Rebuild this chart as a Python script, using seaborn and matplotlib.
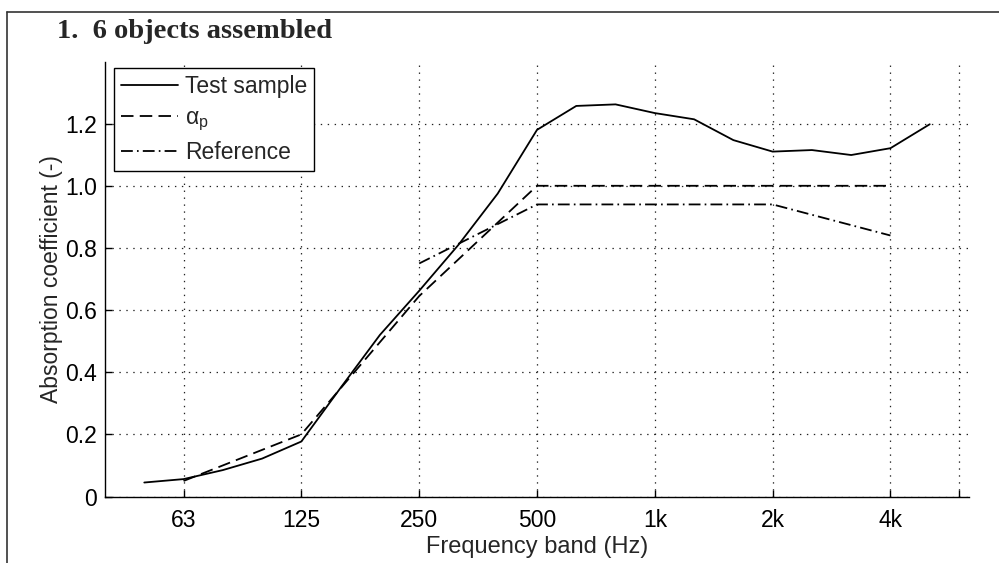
import matplotlib
matplotlib.use('Agg')
import matplotlib.pyplot as plt
import seaborn as sns
import pandas as pd
from matplotlib.lines import Line2D

# Third-octave bands used on the x axis (plotted at their index)
bands = ['50', '63', '80', '100', '125', '160', '200', '250', '315', '400', '500',
         '630', '800', '1k', '1.25k', '1.6k', '2k', '2.5k', '3.15k', '4k', '5k']

# Test sample, third-octave values
test_sample = [0.045, 0.056, 0.085, 0.122, 0.177, 0.35, 0.52, 0.662, 0.81, 0.975, 1.18,
               1.257, 1.262, 1.234, 1.214, 1.147, 1.11, 1.115, 1.099, 1.121, 1.198]

# Practical absorption coefficient, octave bands
alpha_bands = ['63', '125', '250', '500', '1k', '2k', '4k']
alpha_p = [0.05, 0.20, 0.645, 1.0, 1.0, 1.0, 1.0]

# Reference curve, octave bands
ref_bands = ['250', '500', '1k', '2k', '4k']
reference = [0.75, 0.94, 0.94, 0.94, 0.84]

tick_labels = ['63', '125', '250', '500', '1k', '2k', '4k']
y_ticks = [0, 0.2, 0.4, 0.6, 0.8, 1.0, 1.2]
y_tick_labels = ['0', '0.2', '0.4', '0.6', '0.8', '1.0', '1.2']

pos = {b: i for i, b in enumerate(bands)}
df_test = pd.DataFrame({'x': [pos[b] for b in bands], 'y': test_sample})
df_alpha = pd.DataFrame({'x': [pos[b] for b in alpha_bands], 'y': alpha_p})
df_ref = pd.DataFrame({'x': [pos[b] for b in ref_bands], 'y': reference})

sns.set_style('ticks')
plt.rcParams['font.family'] = ['Liberation Sans', 'DejaVu Sans']
plt.rcParams['mathtext.fontset'] = 'custom'
plt.rcParams['mathtext.rm'] = 'Liberation Sans'
plt.rcParams['mathtext.it'] = 'Liberation Sans'
plt.rcParams['lines.scale_dashes'] = False

fig = plt.figure(figsize=(9.99, 5.63), dpi=100)
ax = fig.add_axes([105 / 999, 66.5 / 563, 864 / 999, 435 / 563])

sns.lineplot(data=df_test, x='x', y='y', ax=ax, color='black', lw=1.3,
             label='Test sample')
sns.lineplot(data=df_alpha, x='x', y='y', ax=ax, color='black', lw=1.3,
             linestyle=(0, (9, 4.5)), label=r'$\alpha_\mathrm{p}$')
sns.lineplot(data=df_ref, x='x', y='y', ax=ax, color='black', lw=1.3,
             linestyle=(0, (8.5, 3, 1.2, 3)), label='Reference')

ax.set_xlim(-1, 21)
ax.set_ylim(0, 1.4)
ax.set_xticks([pos[t] for t in tick_labels] + [20.75])
ax.set_xticklabels(tick_labels + [''])
ax.set_yticks(y_ticks)
ax.set_yticklabels(y_tick_labels)
ax.tick_params(direction='in', length=5, width=1, labelsize=16.5, colors='black')
ax.tick_params(axis='x', pad=9)
ax.tick_params(axis='y', pad=6)
ax.grid(True, linestyle=(0, (1, 4)), color='#222222', lw=0.9)
ax.set_axisbelow(True)
sns.despine(ax=ax)
for s in ['left', 'bottom']:
    ax.spines[s].set_color('black')
    ax.spines[s].set_linewidth(1.0)

ax.set_xlabel('Frequency band (Hz)', fontsize=17, labelpad=3)
ax.set_ylabel('Absorption coefficient (-)', fontsize=16.5, labelpad=1)

leg = ax.legend(loc='upper left', bbox_to_anchor=(0.0104, 0.985), borderaxespad=0,
                fontsize=16.5, frameon=True, fancybox=False, edgecolor='black',
                framealpha=1, handlelength=2.5, handletextpad=0.3,
                labelspacing=0.35, borderpad=0.3)
leg.get_frame().set_linewidth(1.0)

fig.text(57 / 999, 1 - 31 / 563, '1.  6 objects assembled', fontsize=20.5,
         fontweight='bold', family='Liberation Serif', va='center', ha='left')

# outer frame of the scanned figure
fig.add_artist(Line2D([7 / 999, 1], [1 - 12 / 563, 1 - 12 / 563], color='#333333', lw=1.2))
fig.add_artist(Line2D([7 / 999, 7 / 999], [0, 1 - 12 / 563], color='#333333', lw=1.2))

fig.savefig('out.png', dpi=100)
